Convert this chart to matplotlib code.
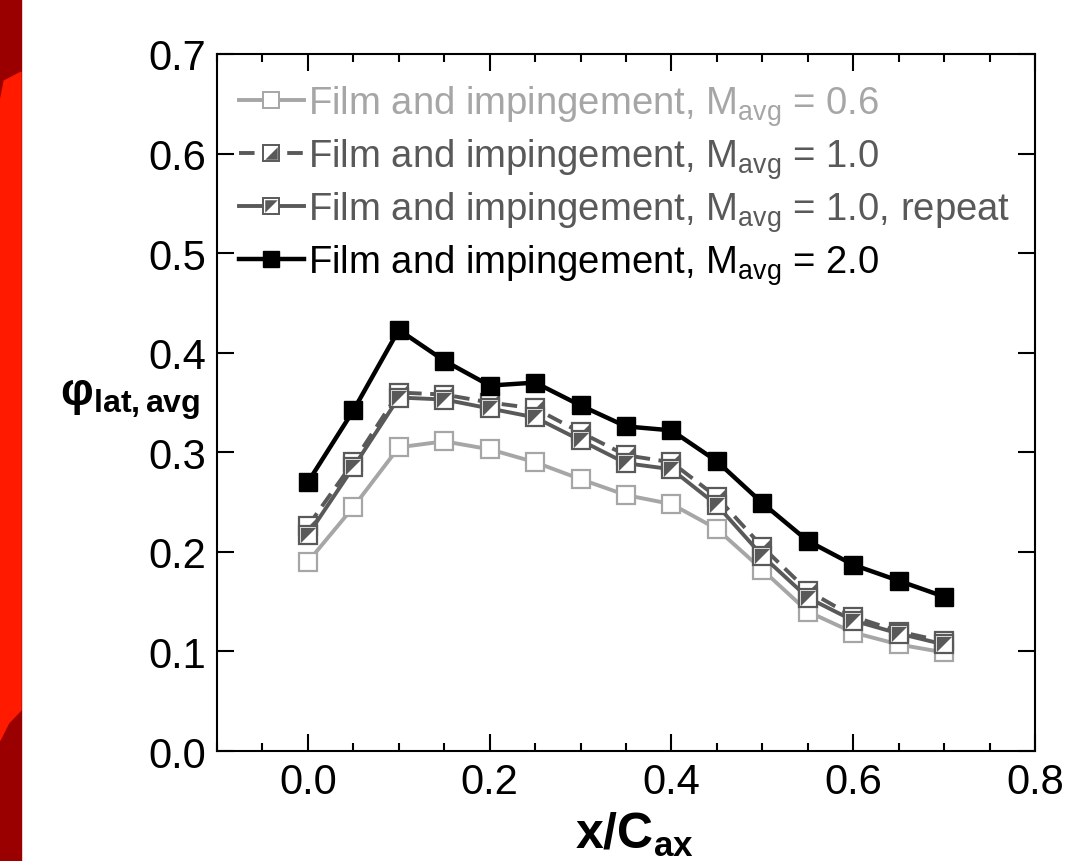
"""Laterally averaged effectiveness vs x/Cax, film + impingement."""

import matplotlib as mpl
import matplotlib.pyplot as plt
from matplotlib.lines import Line2D
from matplotlib.patches import Polygon, Rectangle
from matplotlib.ticker import FormatStrFormatter, MultipleLocator

LIGHT = "#A6A6A6"
DARK = "#595959"
INK = "#000000"

x_cax = [0.00, 0.05, 0.10, 0.15, 0.20, 0.25, 0.30, 0.35,
         0.40, 0.45, 0.50, 0.55, 0.60, 0.65, 0.70]
phi_m06 = [0.190, 0.245, 0.305, 0.311, 0.303, 0.290, 0.273, 0.257,
           0.248, 0.223, 0.182, 0.140, 0.119, 0.107, 0.099]
phi_m10 = [0.226, 0.290, 0.360, 0.358, 0.350, 0.344, 0.320, 0.297,
           0.290, 0.255, 0.205, 0.161, 0.135, 0.120, 0.110]
phi_m10_rep = [0.217, 0.285, 0.355, 0.353, 0.344, 0.335, 0.312, 0.289,
               0.283, 0.247, 0.196, 0.154, 0.131, 0.118, 0.107]
phi_m20 = [0.270, 0.342, 0.423, 0.392, 0.367, 0.370, 0.347, 0.326,
           0.322, 0.291, 0.249, 0.211, 0.187, 0.171, 0.155]

labels = [
    r"Film and impingement, M$_{\rm avg}$ = 0.6",
    r"Film and impingement, M$_{\rm avg}$ = 1.0",
    r"Film and impingement, M$_{\rm avg}$ = 1.0, repeat",
    r"Film and impingement, M$_{\rm avg}$ = 2.0",
]

# half-filled square markers (diagonal split)
TRI_LOWER_RIGHT = [(-1, -1), (1, -1), (1, 1), (-1, -1)]
TRI_UPPER_LEFT = [(-1, -1), (1, 1), (-1, 1), (-1, -1)]

mpl.rcParams.update({
    "font.family": ["Liberation Sans", "DejaVu Sans"],
    "mathtext.fontset": "custom",
    "mathtext.rm": "Liberation Sans",
    "mathtext.it": "Liberation Sans:italic",
    "mathtext.bf": "Liberation Sans:bold",
})

fig = plt.figure(figsize=(10.76, 8.62), dpi=100)
ax = fig.add_axes([0.2017, 0.1276, 0.7602, 0.8086])

# red slide background strip on the far left
strip_w = 21 / 1076
fig.patches.append(Rectangle((0, 0), strip_w, 1, transform=fig.transFigure,
                             color="#9A0000", zorder=0))
fig.patches.append(Polygon([(0.004, 0.905), (strip_w, 0.915), (strip_w, 0.175),
                            (0.008, 0.16), (0.0, 0.14), (0.0, 0.88)],
                           closed=True, transform=fig.transFigure,
                           color="#FF1A00", zorder=0))

ms = 13
ax.plot(x_cax, phi_m06, color=LIGHT, lw=2.8, marker="s", ms=ms,
        mfc="white", mec=LIGHT, mew=1.6, zorder=3)

ax.plot(x_cax, phi_m10, color=DARK, lw=2.8, ls=(0, (4, 2.2)), marker="s",
        ms=ms, mfc="white", mec=DARK, mew=1.6, zorder=4)
ax.plot(x_cax, phi_m10, ls="none", marker=TRI_LOWER_RIGHT, ms=ms - 2,
        mfc=DARK, mec=DARK, mew=0, zorder=4)

ax.plot(x_cax, phi_m10_rep, color=DARK, lw=2.8, marker="s", ms=ms,
        mfc="white", mec=DARK, mew=1.6, zorder=5)
ax.plot(x_cax, phi_m10_rep, ls="none", marker=TRI_UPPER_LEFT, ms=ms - 2,
        mfc=DARK, mec=DARK, mew=0, zorder=5)

ax.plot(x_cax, phi_m20, color=INK, lw=3.2, marker="s", ms=ms,
        mfc=INK, mec=INK, zorder=6)

# legend handles
h06 = Line2D([], [], color=LIGHT, lw=2.8, marker="s", ms=ms - 2,
             mfc="white", mec=LIGHT, mew=1.4)
h10 = (Line2D([], [], color=DARK, lw=2.8, ls=(0, (4, 2.2)), marker="s",
              ms=ms - 2, mfc="white", mec=DARK, mew=1.4),
       Line2D([], [], ls="none", marker=TRI_LOWER_RIGHT, ms=ms - 4,
              mfc=DARK, mec=DARK, mew=0))
h10r = (Line2D([], [], color=DARK, lw=2.8, marker="s", ms=ms - 2,
               mfc="white", mec=DARK, mew=1.4),
        Line2D([], [], ls="none", marker=TRI_UPPER_LEFT, ms=ms - 4,
               mfc=DARK, mec=DARK, mew=0))
h20 = Line2D([], [], color=INK, lw=3.2, marker="s", ms=ms - 2, mfc=INK, mec=INK)

leg = ax.legend([h06, h10, h10r, h20], labels, loc="upper left",
                bbox_to_anchor=(-0.006, 0.997), frameon=False, fontsize=27.5,
                handlelength=1.7, handletextpad=0.1, labelspacing=0.22,
                borderaxespad=0.3)
for text, col in zip(leg.get_texts(), [LIGHT, DARK, DARK, INK]):
    text.set_color(col)

ax.set_xlim(-0.1, 0.8)
ax.set_ylim(0.0, 0.7)
ax.xaxis.set_major_locator(MultipleLocator(0.2))
ax.xaxis.set_minor_locator(MultipleLocator(0.05))
ax.yaxis.set_major_locator(MultipleLocator(0.1))
ax.xaxis.set_major_formatter(FormatStrFormatter("%.1f"))
ax.yaxis.set_major_formatter(FormatStrFormatter("%.1f"))
ax.tick_params(which="both", direction="in", top=True, right=True,
               width=1.5, labelsize=30, pad=8)
ax.tick_params(which="major", length=12)
ax.tick_params(which="minor", length=6)
for side in ax.spines.values():
    side.set_linewidth(1.5)

ax.set_xlabel(r"x/C$_{\mathbf{ax}}$", fontsize=36, fontweight="bold")
ax.xaxis.set_label_coords(0.51, -0.085)
ax.set_ylabel(r"φ$_{\mathbf{lat,avg}}$", fontsize=33, fontweight="bold",
              rotation=0, ha="right", va="center")
ax.yaxis.set_label_coords(-0.02, 0.505)

fig.savefig("out.png", dpi=100)
